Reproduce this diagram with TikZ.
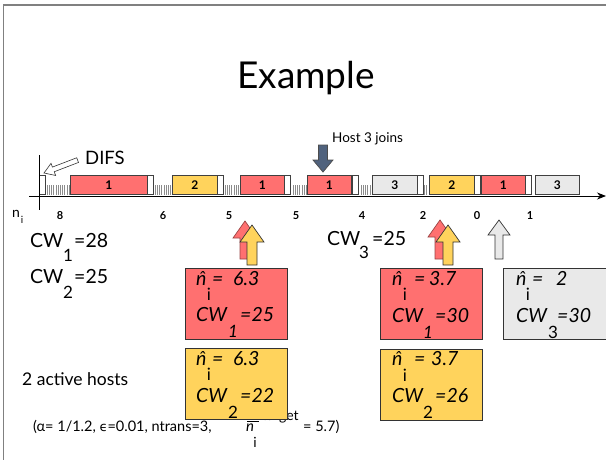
\documentclass[tikz,border=0pt]{standalone}
\usepackage{fontspec}
\setmainfont{Lato}
\newfontfamily\dejavu{DejaVu Sans}
\usetikzlibrary{arrows.meta}
\definecolor{hred}{RGB}{255,112,112}
\definecolor{hyel}{RGB}{255,211,92}
\definecolor{hgray}{RGB}{233,233,233}
\definecolor{harrow}{RGB}{80,98,125}
\definecolor{framec}{RGB}{128,128,128}
\newcommand\blkarrow[7]{\draw[#1] (#2,#3) -- ({#2+#6},#4) -- ({#2+#7},#4) -- ({#2+#7},#5) -- ({#2-#7},#5) -- ({#2-#7},#4) -- ({#2-#6},#4) -- cycle;}
\begin{document}
\begin{tikzpicture}[x=1pt,y=-1pt,
  slot/.style={draw=black!75, line width=0.6pt, minimum height=19pt, inner sep=0pt, anchor=south west, font=\bfseries\fontsize{12}{12}\selectfont},
  hatch/.style={draw=black!45, line width=0.5pt},
  lbl/.style={anchor=base west, inner sep=0pt},
  big/.style={font=\fontsize{19.5}{19.5}\selectfont},
  sub/.style={anchor=base, inner sep=0pt, font=\fontsize{17}{17}\selectfont},
  bx/.style={anchor=base west, inner sep=0pt, font=\itshape\fontsize{19.5}{19.5}\selectfont},
  bsub/.style={anchor=base, inner sep=0pt, font=\fontsize{17}{17}\selectfont},
  bisub/.style={anchor=base, inner sep=0pt, font=\itshape\fontsize{17}{17}\selectfont},
  infobox/.style={draw=black!80, line width=0.8pt, minimum width=102pt, minimum height=71pt, anchor=north west, inner sep=0pt},
  tick/.style={anchor=base, inner sep=0pt, font=\bfseries\fontsize{11}{11}\selectfont},
  arr/.style={draw=black!80, line width=0.7pt}]
\useasboundingbox (0,0) rectangle (606,459);
\draw[framec, line width=1.5pt] (3.5,470) -- (3.5,5) -- (620,5);

\node[anchor=base, inner sep=0pt, font=\fontsize{37}{37}\selectfont] (title) at (306,88) {Example};

% timeline
\coordinate (axL) at (29,196);
\coordinate (axR) at (606,196);
\coordinate (vT) at (39,155);
\coordinate (vB) at (39,210);
\foreach \s/\n in {47/10,155/7,225/6,293/6,361/4,424/1}
  \foreach \k in {0,...,\n}
    \draw[hatch] ({\s+2.2*\k},185) -- ({\s+2.2*\k},195);
\foreach \a/\b/\c/\t [count=\i] in {39/45/white/,70/147/hred/1,147/153/white/,172/217/hyel/2,217/223/white/,240/284/hred/1,284/290/white/,307/351/hred/1,352/358/white/,372/417/hgray/3,417/423/white/,429/474/hyel/2,474/480/white/,481/525/hred/1,525/531/white/,535/579/hgray/3}
  \node[slot, fill=\c, minimum width=\b-\a] (s\i) at (\a,195) {\t};
\draw[black, line width=0.8pt, -{Stealth[length=9pt,width=7pt]}] (axL) -- (axR);
\draw[black, line width=0.8pt] (vT) -- (vB);

% DIFS
\begin{scope}[shift={(44,173)}, rotate=21]
  \draw[arr, fill=white, line width=0.6pt] (0,0) -- (10,-6.5) -- (10,-2.5) -- (36,-2.5) -- (36,2.5) -- (10,2.5) -- (10,6.5) -- cycle;
\end{scope}
\node[lbl, font=\fontsize{18.5}{18.5}\selectfont] (difs) at (85,164) {DIFS};

% Host 3 joins
\node[lbl, font=\fontsize{13.5}{13.5}\selectfont] (host3) at (332,142) {Host 3 joins};
\blkarrow{arr, fill=harrow, draw=black!70}{323}{172}{160}{145}{10}{4.5}

% tick labels
\node[lbl, font=\fontsize{14}{14}\selectfont] (ni) at (12,217) {n};
\node[sub, font=\fontsize{10}{10}\selectfont] (nii) at (22,223) {i};
\foreach \x/\t [count=\i] in {60/8,163/6,229/5,296/5,362/4,423/2,477/0,530/1}
  \node[tick] (t\i) at (\x,219) {\t};

% CW labels
\node[lbl, big] (cw1) at (30,247) {CW};
\node[sub] (cw1s) at (68,261) {1};
\node[lbl, big] (cw1v) at (74,247) {=28};
\node[lbl, big] (cw2) at (30,283) {CW};
\node[sub] (cw2s) at (68,298) {2};
\node[lbl, big] (cw2v) at (74,283) {=25};
\node[lbl, big] (cw3) at (327,245) {CW};
\node[sub] (cw3s) at (364,258) {3};
\node[lbl, big] (cw3v) at (372,245) {=25};

% up arrows
\blkarrow{arr, fill=hred, draw=hred!60!black}{245}{221}{238}{259}{12}{5}
\blkarrow{arr, fill=hyel}{252}{225}{242}{265}{12}{5}
\blkarrow{arr, fill=hred, draw=hred!60!black}{440}{220}{237}{259}{12}{5}
\blkarrow{arr, fill=hyel}{448}{225}{242}{265}{12}{5}
\blkarrow{arr, fill=hgray}{499}{220}{235}{259}{11}{4}

% params line (drawn before boxes)
\node[lbl, font=\fontsize{14.5}{14.5}\selectfont] (par) at (33,431) {(α= 1/1.2, {\dejavu\fontsize{13}{13}\selectfont ϵ}=0.01, ntrans=3,};
\node[lbl, font=\itshape\fontsize{15}{15}\selectfont] (nbar) at (246,431) {n};
\node[sub, font=\fontsize{14}{14}\selectfont] (nbari) at (255,447) {i};
\node[lbl, font=\fontsize{14}{14}\selectfont] (targ) at (262,420) {target};
\node[lbl, font=\fontsize{14.5}{14.5}\selectfont] (parv) at (303,431) {= 5.7)};

\node[lbl, font=\fontsize{17.5}{17.5}\selectfont] (act) at (22,385) {2 active hosts};

% boxes
\node[infobox, fill=hred] (b1) at (185,268) {};
\node[bx] at (196,285) {\^n};
\node[bsub] at (209,300) {i};
\node[bx] at (212,285) {=};
\node[bx] at (233,285) {6.3};
\node[bx] at (196,321) {CW};
\node[bisub] at (233,337) {1};
\node[bx] at (240,321) {=25};

\node[infobox, fill=hyel] (b2) at (185,348) {};
\node[bx] at (196,365) {\^n};
\node[bsub] at (209,380) {i};
\node[bx] at (212,365) {=};
\node[bx] at (233,365) {6.3};
\node[bx] at (196,402) {CW};
\node[bsub] at (233,418) {2};
\node[bx] at (240,402) {=22};

\node[infobox, fill=hred] (b3) at (380,268) {};
\node[bx] at (392,285) {\^n};
\node[bsub] at (405,300) {i};
\node[bx] at (414,285) {=};
\node[bx] at (429,285) {3.7};
\node[bx] at (392,322) {CW};
\node[bisub] at (428,338) {1};
\node[bx] at (435,322) {=30};

\node[infobox, fill=hyel] (b4) at (380,349) {};
\node[bx] at (392,365) {\^n};
\node[bsub] at (405,381) {i};
\node[bx] at (414,365) {=};
\node[bx] at (431,365) {3.7};
\node[bx] at (392,402) {CW};
\node[bsub] at (428,418) {2};
\node[bx] at (435,402) {=26};

\node[infobox, fill=hgray, minimum width=104pt] (b5) at (503,268) {};
\node[bx] at (516,285) {\^n};
\node[bsub] at (528,300) {i};
\node[bx] at (532,285) {=};
\node[bx] at (556,285) {2};
\node[bx] at (516,322) {CW};
\node[bsub] at (553,338) {3};
\node[bx] at (557,322) {=30};

% overline of n-bar, just below the box edge
\draw[black, line width=0.6pt] (247,421) -- (259,421);
\end{tikzpicture}
\end{document}
